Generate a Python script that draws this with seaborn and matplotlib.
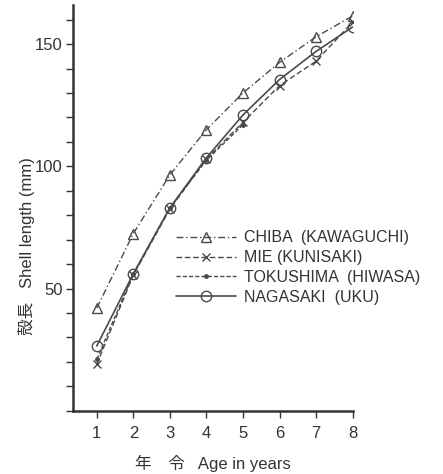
import numpy as np
import pandas as pd
import matplotlib
matplotlib.use("Agg")
import matplotlib.pyplot as plt
from matplotlib.ticker import MultipleLocator
import seaborn as sns

# Age (years) and shell length (mm)
ages = [1, 2, 3, 4, 5, 6, 7, 8]
chiba = [42, 72.5, 96.5, 115, 130, 142.5, 153, 161.5]
mie = [19, 55.5, 82.5, 103, 118, 133, 143, 159]
tokushima = [21, 56, 83, 102.5, 117, np.nan, np.nan, np.nan]
nagasaki = [26.5, 56, 83, 103.5, 121, 135.5, 147, 157]

labels = ["CHIBA  (KAWAGUCHI)", "MIE (KUNISAKI)", "TOKUSHIMA  (HIWASA)", "NAGASAKI  (UKU)"]
series = [chiba, mie, tokushima, nagasaki]

sns.set_style("ticks")
plt.rcParams["font.family"] = ["Liberation Sans", "Noto Sans CJK JP", "DejaVu Sans"]

df = pd.DataFrame({
    "age": ages * len(series),
    "length": sum(series, []),
    "site": [lab for lab in labels for _ in ages],
})

fig = plt.figure(figsize=(4.43, 4.74), dpi=100)
ax = fig.add_axes([0.164, 0.1335, 0.632, 0.856])

line_col = "#4a4a4a"
styles = {
    labels[0]: dict(linestyle=(0, (5, 2, 1, 2)), marker="^", markersize=7, fillstyle="none", lw=1.0),
    labels[1]: dict(linestyle=(0, (4, 2)), marker="x", markersize=6, lw=1.0),
    labels[2]: dict(linestyle=(0, (3, 1.5)), marker=".", markersize=5, lw=1.0),
    labels[3]: dict(linestyle="-", marker="o", markersize=7.5, fillstyle="none", lw=1.2),
}

for lab in labels:
    sub = df[df["site"] == lab].dropna()
    st = styles[lab]
    sns.lineplot(data=sub, x="age", y="length", ax=ax, color=line_col,
                 linestyle=st["linestyle"], marker=st["marker"],
                 markersize=st["markersize"], fillstyle=st.get("fillstyle", "full"),
                 markeredgecolor=line_col, markeredgewidth=1.0,
                 lw=st["lw"], label=lab)

ax.set_xlim(0.34, 8.0)
ax.set_ylim(0, 166)
ax.set_xticks(ages)
ax.yaxis.set_major_locator(MultipleLocator(50))
ax.yaxis.set_minor_locator(MultipleLocator(10))
ax.set_yticks([50, 100, 150])
ax.tick_params(axis="both", which="both", direction="out", length=5, width=1.0,
               colors="#333333", labelsize=12)
ax.tick_params(axis="x", pad=6)
ax.tick_params(axis="y", pad=2)
for s in ["top", "right"]:
    ax.spines[s].set_visible(False)
for s in ["left", "bottom"]:
    ax.spines[s].set_linewidth(1.8)
    ax.spines[s].set_color("#333333")

ax.set_xlabel("")
ax.set_ylabel("")
fig.text(0.48, 0.023, "年　令   Age in years", ha="center", va="center",
         fontsize=12, color="#333333")
fig.text(0.059, 0.48, "殻長   Shell length (mm)", ha="center", va="center",
         rotation=90, fontsize=12, color="#333333")

leg = ax.legend(loc="upper left", bbox_to_anchor=(0.345, 0.46), frameon=False,
                handlelength=3.8, handletextpad=0.45, labelspacing=0.3,
                fontsize=11.5, borderaxespad=0)
for t in leg.get_texts():
    t.set_color("#333333")

fig.savefig("out.png", dpi=100)
